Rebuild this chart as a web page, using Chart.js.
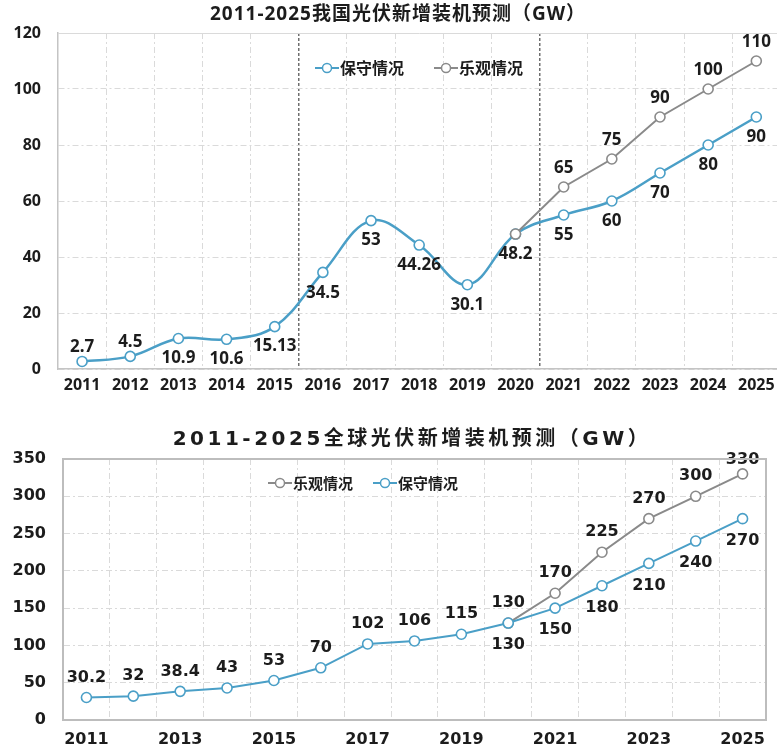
<!DOCTYPE html>
<html>
<head>
<meta charset="utf-8">
<title>2011-2025光伏新增装机预测</title>
<style type="text/css">
body {
	margin: 0;
	background: #fff;
	width: 777px;
	height: 749px;
	overflow: hidden;
}
#topBox {
	position: absolute; left: 0; top: 0;
	width: 777px; height: 400px; overflow: hidden;
}
#bottomBox {
	position: absolute; left: 0; top: 420px;
	width: 777px; height: 329px;
}
</style>
<script src="https://cdn.jsdelivr.net/npm/chart.js@4"></script>
<script>

// ---- 我国 (China) ----
const cnYears = ['2011','2012','2013','2014','2015','2016','2017','2018','2019','2020','2021','2022','2023','2024','2025'];
const cnBase = [2.7, 4.5, 10.9, 10.6, 15.13, 34.5, 53, 44.26, 30.1, 48.2, 55, 60, 70, 80, 90];
const cnOpt = [null, null, null, null, null, null, null, null, null, 48.2, 65, 75, 90, 100, 110];
const cnSplitYears = ['2016', '2021'];	// dark dashed line on the left edge of these years
const cnYTicks = [0, 20, 40, 60, 80, 100, 120];

// ---- 全球 (world) ----
const wdYears = ['2011','2012','2013','2014','2015','2016','2017','2018','2019','2020','2021','2022','2023','2024','2025'];
const wdBase = [30.2, 32, 38.4, 43, 53, 70, 102, 106, 115, 130, 150, 180, 210, 240, 270];
const wdOpt = [null, null, null, null, null, null, null, null, null, 130, 170, 225, 270, 300, 330];
const wdYTicks = [0, 50, 100, 150, 200, 250, 300, 350];

// where each value label goes (pixels above/below its point), null = no label
const cnBaseLbl = [-14, -14, 20, 20, 20, 21, 20, 20, 20, 20, 20, 20, 20, 20, 20];
const cnOptLbl = [null, null, null, null, null, null, null, null, null, null, -19, -19, -19, -19, -19];
const wdBaseLbl = [-20, -20, -20, -20, -20, -20, -20, -20, -20, 22, 22, 22, 22, 22, 22];
const wdOptLbl = [null, null, null, null, null, null, null, null, null, -20, -20, -20, -20, -20, -14];

const BLUE = '#4a9fc7';
const GREY = '#8a8a8a';
const TEXT = '#1c1c1c';

// chart title, drawn by hand so the letter spacing can be set
const titleText = {
	id: 'titleText',
	beforeDraw(chart, args, opts) {
		const ctx = chart.ctx;
		ctx.save();
		ctx.font = opts.font;
		ctx.letterSpacing = opts.spacing + 'px';
		ctx.fillStyle = TEXT;
		ctx.textAlign = 'center';
		ctx.textBaseline = 'middle';
		ctx.fillText(opts.text, opts.x, opts.y);
		ctx.restore();
	}
};

// value labels next to points
const pointLabels = {
	id: 'pointLabels',
	afterDatasetsDraw(chart, args, opts) {
		const ctx = chart.ctx;
		ctx.save();
		ctx.font = opts.font;
		ctx.fillStyle = TEXT;
		ctx.textAlign = 'center';
		ctx.textBaseline = 'middle';
		chart.data.datasets.forEach((ds, di) => {
			const meta = chart.getDatasetMeta(di);
			meta.data.forEach((pt, i) => {
				const off = ds.labelOffsets[i];
				if (ds.data[i] == null || off == null) return;
				ctx.fillText(String(ds.data[i]), pt.x, pt.y + off);
			});
		});
		ctx.restore();
	}
};

// legend drawn inside the plot like the excel one
const inlineLegend = {
	id: 'inlineLegend',
	afterDraw(chart, args, opts) {
		const ctx = chart.ctx;
		ctx.save();
		ctx.font = opts.font;
		ctx.textBaseline = 'middle';
		ctx.textAlign = 'left';
		let x = opts.x;
		const y = opts.y;
		opts.order.forEach(di => {
			const ds = chart.data.datasets[di];
			ctx.strokeStyle = ds.borderColor;
			ctx.lineWidth = 2;
			ctx.beginPath();
			ctx.moveTo(x, y);
			ctx.lineTo(x + 24, y);
			ctx.stroke();
			ctx.beginPath();
			ctx.arc(x + 12, y, 4.5, 0, Math.PI * 2);
			ctx.fillStyle = '#fff';
			ctx.fill();
			ctx.lineWidth = 1.5;
			ctx.stroke();
			ctx.fillStyle = TEXT;
			ctx.fillText(ds.label, x + 25, y);
			x += 25 + ctx.measureText(ds.label).width + opts.gap;
		});
		ctx.restore();
	}
};

// full frame round the plot (bottom chart only)
const frame = {
	id: 'frame',
	afterDraw(chart, args, opts) {
		if (!opts.show) return;
		const a = chart.chartArea, ctx = chart.ctx;
		ctx.save();
		ctx.strokeStyle = '#bdbdbd';
		ctx.lineWidth = 2;
		ctx.strokeRect(a.left, a.top, a.right - a.left, a.bottom - a.top);
		ctx.restore();
	}
};

function lineSet(label, data, color, lbl, tension, order, width)
{
	return {
		label: label,
		data: data,
		borderColor: color,
		backgroundColor: '#fff',
		borderWidth: width,
		pointRadius: 5,
		pointBorderWidth: 1.6,
		pointBackgroundColor: '#fff',
		pointBorderColor: color,
		tension: tension,
		spanGaps: false,
		clip: false,
		order: order,
		labelOffsets: lbl
	};
}

function makeTop()
{
	const splitIdx = cnSplitYears.map(y => cnYears.indexOf(y));
	const isSplit = c => c.index !== undefined && splitIdx.includes(c.index);
	const font = { family: '"Noto Sans", "Noto Sans CJK SC", sans-serif', size: 16, weight: 'bold' };
	new Chart(document.getElementById('topChart'), {
		type: 'line',
		data: {
			labels: cnYears,
			datasets: [
				lineSet('保守情况', cnBase, BLUE, cnBaseLbl, 0.38, 1, 2.5),
				lineSet('乐观情况', cnOpt, GREY, cnOptLbl, 0, 0, 2)
			]
		},
		options: {
			responsive: false,
			animation: false,
			layout: { padding: { top: 33 } },
			plugins: {
				legend: { display: false },
				tooltip: { enabled: false },
				title: { display: false },
				titleText: {
					text: '2011-2025我国光伏新增装机预测（GW）',
					font: 'bold 19px "Noto Sans", "Noto Sans CJK SC", sans-serif',
					spacing: 1, x: 398, y: 15
				},
				pointLabels: { font: 'bold 17px "Noto Sans", sans-serif' },
				inlineLegend: { font: 'bold 16px "Noto Sans CJK SC", sans-serif', x: 315, y: 68, gap: 30, order: [0, 1] },
				frame: { show: false }
			},
			scales: {
				x: {
					offset: true,
					grid: {
						offset: true,
						drawTicks: false,
						color: c => isSplit(c) ? '#6e6e6e' : '#dadada',
						lineWidth: c => isSplit(c) ? 1.5 : 1
					},
					border: {
						color: '#c4c4c4', width: 1.5,
						dash: c => isSplit(c) ? [3, 2] : [6, 3, 2, 3]
					},
					ticks: { color: TEXT, font: font, padding: 7, maxRotation: 0, autoSkip: false },
					afterFit: s => { s.height = 31; }
				},
				y: {
					min: cnYTicks[0],
					max: cnYTicks[cnYTicks.length - 1],
					afterBuildTicks: s => { s.ticks = cnYTicks.map(v => ({ value: v })); },
					grid: { drawTicks: false, color: '#dadada' },
					border: {
						color: '#c4c4c4', width: 1.5,
						dash: c => (c.tick && c.tick.value === cnYTicks[cnYTicks.length - 1]) ? [] : [6, 3, 2, 3]
					},
					ticks: { color: TEXT, font: font, padding: 17 },
					afterFit: s => { s.width = 58; }
				}
			}
		},
		plugins: [titleText, pointLabels, inlineLegend, frame]
	});
}

function makeBottom()
{
	const font = { family: '"DejaVu Sans", "Noto Sans CJK SC", sans-serif', size: 16, weight: 'bold' };
	new Chart(document.getElementById('bottomChart'), {
		type: 'line',
		data: {
			labels: wdYears,
			datasets: [
				lineSet('保守情况', wdBase, BLUE, wdBaseLbl, 0, 0, 2),
				lineSet('乐观情况', wdOpt, GREY, wdOptLbl, 0, 1, 2)
			]
		},
		options: {
			responsive: false,
			animation: false,
			layout: { padding: { top: 39, right: 11 } },
			plugins: {
				legend: { display: false },
				tooltip: { enabled: false },
				title: { display: false },
				titleText: {
					text: '2011-2025全球光伏新增装机预测（GW）',
					font: 'bold 20px "DejaVu Sans", "Noto Sans CJK SC", sans-serif',
					spacing: 3.5, x: 412, y: 20
				},
				pointLabels: { font: 'bold 16px "DejaVu Sans", sans-serif' },
				inlineLegend: { font: 'bold 15px "Noto Sans CJK SC", sans-serif', x: 268, y: 63, gap: 20, order: [1, 0] },
				frame: { show: true }
			},
			scales: {
				x: {
					offset: true,
					grid: { offset: true, drawTicks: false, color: '#dadada' },
					border: { color: '#bdbdbd', width: 2, dash: [6, 3, 2, 3] },
					ticks: {
						color: TEXT, font: font, padding: 10, maxRotation: 0, autoSkip: false,
						callback: function(v, i) { return i % 2 === 0 ? this.getLabelForValue(v) : ''; }
					},
					afterFit: s => { s.height = 29; }
				},
				y: {
					min: wdYTicks[0],
					max: wdYTicks[wdYTicks.length - 1],
					afterBuildTicks: s => { s.ticks = wdYTicks.map(v => ({ value: v })); },
					grid: { drawTicks: false, color: '#dadada' },
					border: { color: '#bdbdbd', width: 2, dash: [6, 3, 2, 3] },
					ticks: { color: TEXT, font: font, padding: 17 },
					afterFit: s => { s.width = 63; }
				}
			}
		},
		plugins: [titleText, pointLabels, inlineLegend, frame]
	});
}

function load()
{
	makeTop();
	makeBottom();
}
</script>
</head>
<body onload='load();'>
<div id='topBox'><canvas id='topChart' width='787' height='400'></canvas></div>
<div id='bottomBox'><canvas id='bottomChart' width='777' height='329'></canvas></div>
</body>
</html>
